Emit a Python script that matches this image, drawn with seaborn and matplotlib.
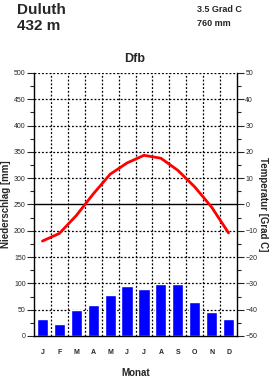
import numpy as np
import pandas as pd
import seaborn as sns
import matplotlib.pyplot as plt
from matplotlib.ticker import MultipleLocator

# Climate data for Duluth
months = ["J", "F", "M", "A", "M", "J", "J", "A", "S", "O", "N", "D"]
precip = [33, 22, 50, 58, 77, 96, 90, 99, 99, 64, 45, 32]
temp = [-13.9, -11.0, -4.2, 4.0, 11.5, 15.8, 18.7, 17.6, 13.0, 6.7, -1.0, -10.8]

station = "Duluth"
elevation = "432 m"
mean_temp = "3.5 Grad C"
total_precip = "760 mm"
climate = "Dfb"

sns.set_theme(style="white")
plt.rcParams["font.family"] = ["Liberation Sans", "DejaVu Sans"]

W, H = 270, 378
fig = plt.figure(figsize=(W / 100, H / 100), dpi=100)
ax = fig.add_axes([34 / W, (H - 336) / H, 203 / W, 263 / H])

df = pd.DataFrame({"idx": range(12), "month": months, "precip": precip, "temp": temp})

sns.barplot(data=df, x="idx", y="precip", color="#0000ff", saturation=1,
            width=0.66, ax=ax)
ax.set_xlim(-0.5, 11.5)
ax.set_ylim(0, 500)

# dotted grid
for y in range(50, 501, 50):
    if y == 250:
        ax.axhline(y, color="black", lw=1, zorder=0.5)
    else:
        ax.axhline(y, color="black", lw=0.9, ls=(0, (1.5, 1.5)), zorder=0.5)
for x in np.arange(0.5, 11, 1):
    ax.axvline(x, color="black", lw=0.9, ls=(0, (1.5, 1.5)), zorder=0.5)

ax.set_xticks(range(12))
ax.set_xticklabels(months, fontsize=5, fontweight="bold")
ax.tick_params(axis="x", length=0, pad=9)
ax.yaxis.set_major_locator(MultipleLocator(50))
ax.yaxis.set_minor_locator(MultipleLocator(25))
ax.tick_params(axis="y", which="major", length=5, width=0.8, labelsize=5, pad=1,
               direction="out", left=True)
ax.tick_params(axis="y", which="minor", length=3, width=0.8, direction="out", left=True)
ax.set_xlabel("Monat", fontsize=7, fontweight="bold", labelpad=9)
ax.set_ylabel("Niederschlag [mm]", fontsize=7, fontweight="bold", labelpad=2)

for s in ["top", "right"]:
    ax.spines[s].set_visible(False)
for s in ["left", "bottom"]:
    ax.spines[s].set_color("black")
    ax.spines[s].set_linewidth(1)

ax2 = ax.twinx()
sns.lineplot(data=df, x="idx", y="temp", color="#ff0000", lw=2, ax=ax2)
ax2.set_ylim(-50, 50)
ax2.set_xlim(-0.5, 11.5)
ax2.yaxis.set_major_locator(MultipleLocator(10))
ax2.yaxis.set_minor_locator(MultipleLocator(5))
ax2.tick_params(axis="y", which="major", length=5, width=0.8, labelsize=5, pad=1,
                direction="out", right=True)
ax2.tick_params(axis="y", which="minor", length=3, width=0.8, direction="out", right=True)
ax2.set_ylabel("Temperatur [Grad C]", fontsize=7, fontweight="bold",
               rotation=-90, labelpad=8)
for s in ["top", "left", "bottom"]:
    ax2.spines[s].set_visible(False)
ax2.spines["right"].set_color("black")
ax2.spines["right"].set_linewidth(1)

fig.text(17 / W, 1 - 10 / H, station, fontsize=11, fontweight="bold", va="center")
fig.text(17 / W, 1 - 26 / H, elevation, fontsize=11, fontweight="bold", va="center")
fig.text(197 / W, 1 - 9 / H, mean_temp, fontsize=6.5, fontweight="bold", va="center")
fig.text(197 / W, 1 - 24 / H, total_precip, fontsize=6.5, fontweight="bold", va="center")
fig.text(135 / W, 1 - 59 / H, climate, fontsize=9, fontweight="bold",
         va="center", ha="center")

fig.savefig("out.png", dpi=100)
